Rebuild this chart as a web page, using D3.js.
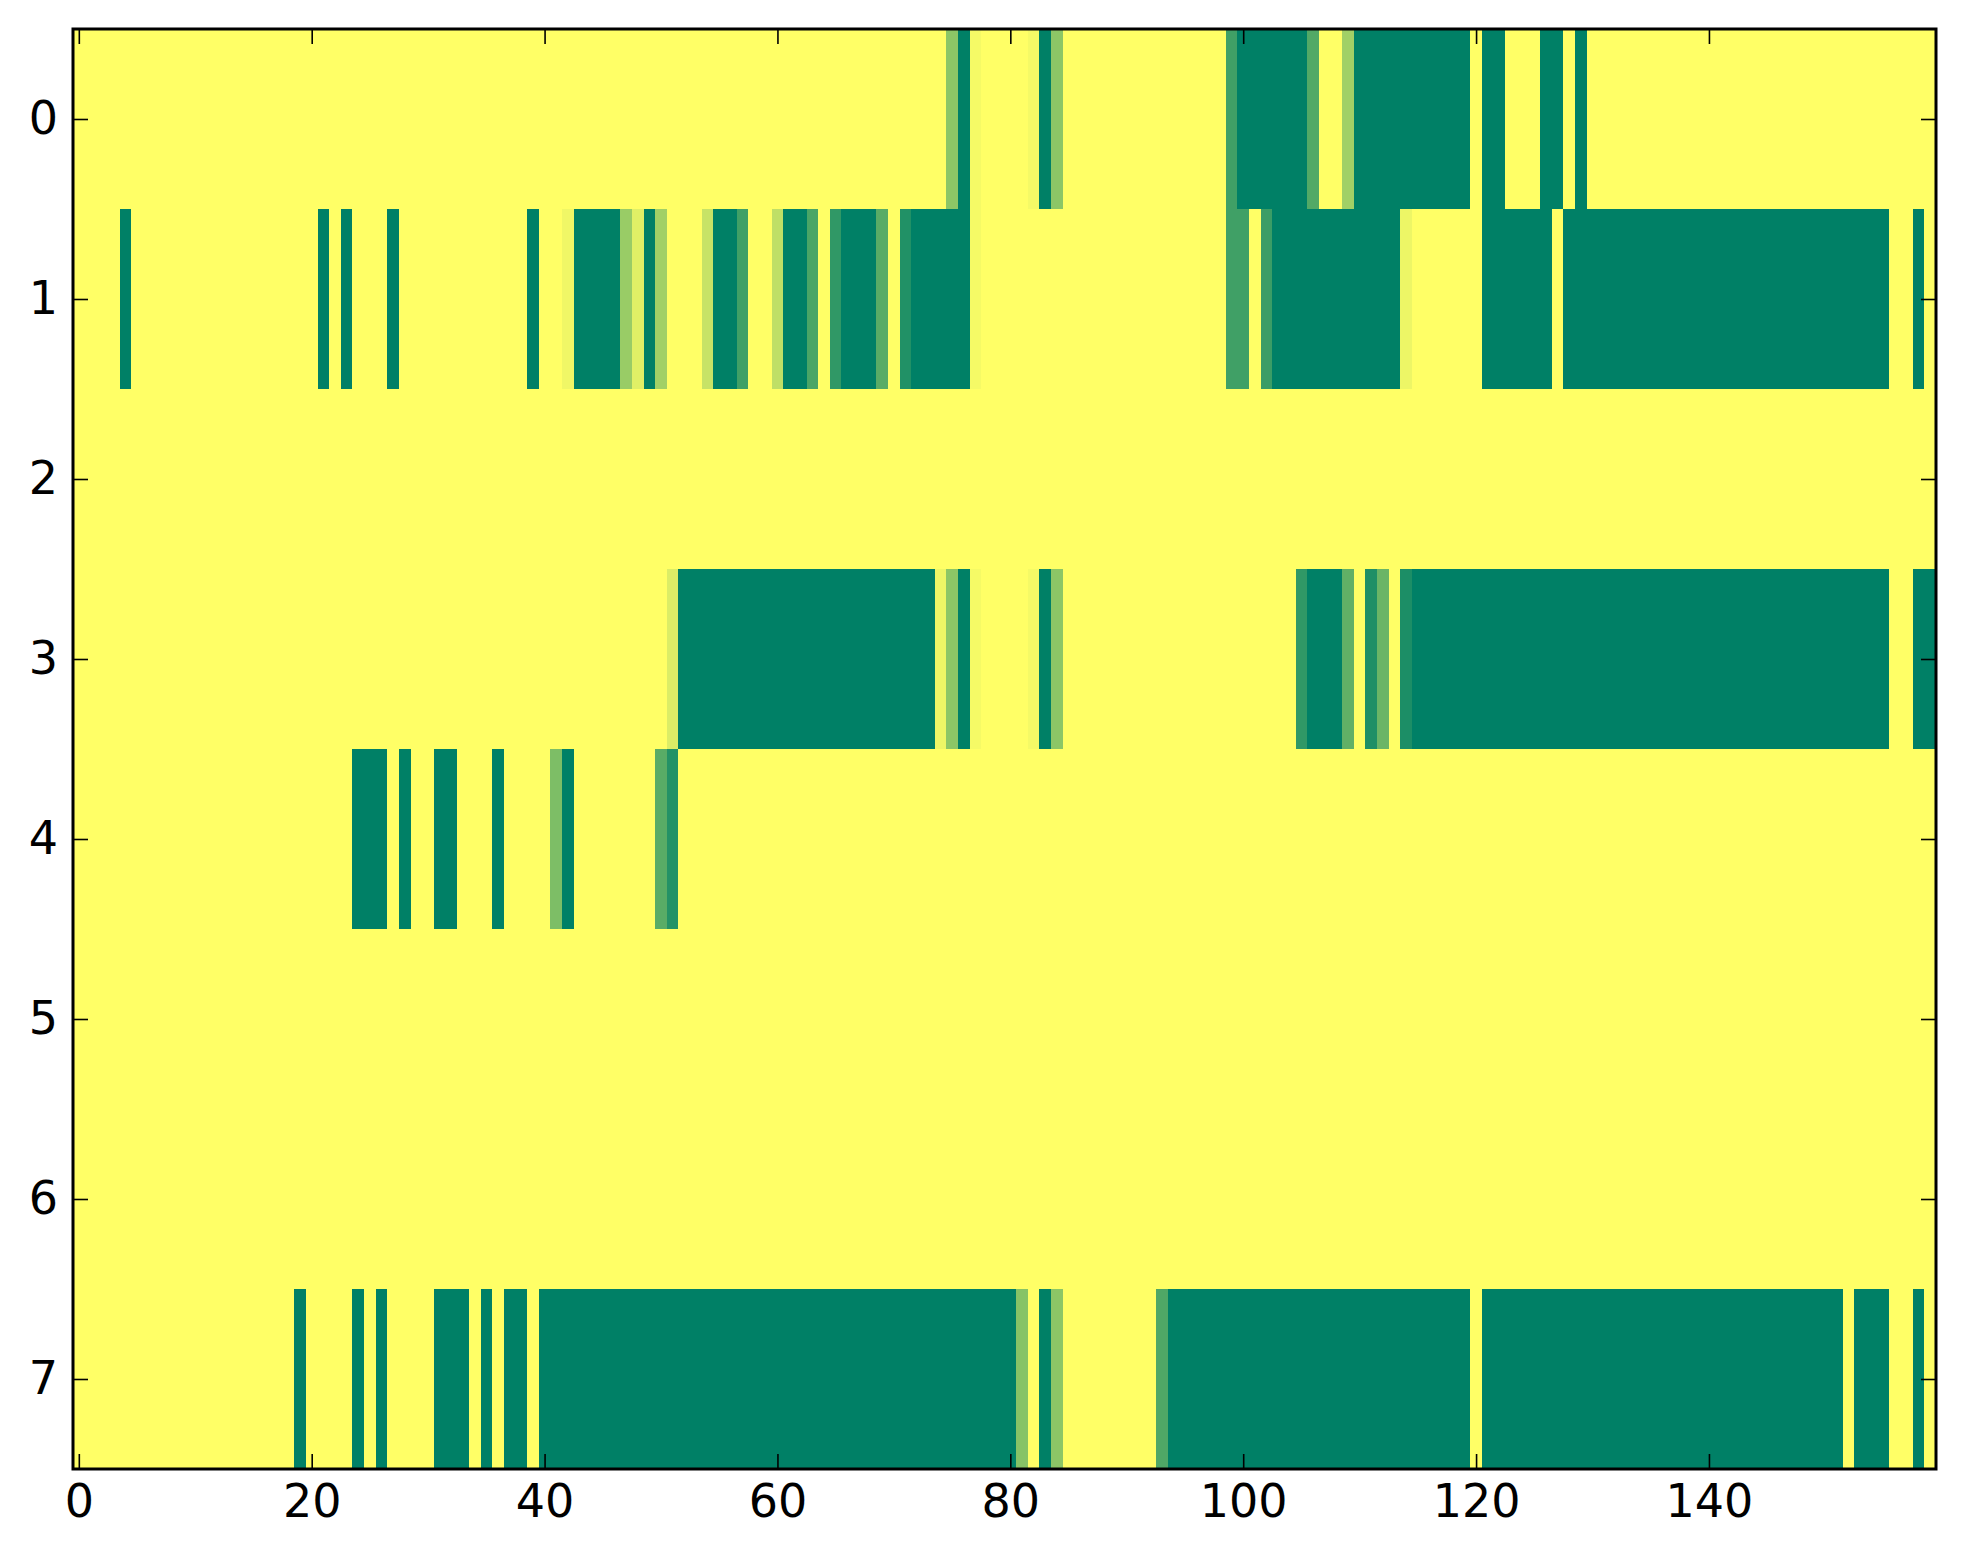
<!DOCTYPE html>
<html>
<head>
<meta charset="utf-8">
<script src="https://cdn.jsdelivr.net/npm/d3@7"></script>
<style>
  body { margin: 0; background: #fff; }
  svg { display: block; }
  .tick text { font-family: "DejaVu Sans", sans-serif; }
</style>
</head>
<body>
<div id="chart"></div>
<script>
// each row is a list of runs: [first column, last column, value]
const row0 = [[0,74,1],[75,75,0.55],[76,76,0],[77,77,0.96],[78,81,1],[82,82,0.96],[83,83,0],[84,84,0.55],
  [85,98,1],[99,99,0.25],[100,105,0],[106,106,0.32],[107,108,1],[109,109,0.63],[110,119,0],[120,120,1],
  [121,122,0],[123,125,1],[126,127,0],[128,128,1],[129,129,0],[130,159,1]];
const row1 = [[0,3,1],[4,4,0],[5,20,1],[21,21,0],[22,22,1],[23,23,0],[24,26,1],[27,27,0],[28,38,1],[39,39,0],
  [40,41,1],[42,42,0.94],[43,46,0],[47,47,0.6],[48,48,0.88],[49,49,0],[50,50,0.63],[51,53,1],[54,54,0.78],
  [55,56,0],[57,57,0.25],[58,59,1],[60,60,0.75],[61,62,0],[63,63,0.29],[64,64,1],[65,65,0.19],[66,68,0],
  [69,69,0.35],[70,70,1],[71,71,0.13],[72,76,0],[77,77,0.96],[78,98,1],[99,100,0.25],[101,101,1],
  [102,102,0.23],[103,113,0],[114,114,0.93],[115,120,1],[121,126,0],[127,127,1],[128,155,0],[156,157,1],
  [158,158,0],[159,159,1]];
const row2 = [[0,159,1]];
const row3 = [[0,50,1],[51,51,0.86],[52,73,0],[74,74,0.93],[75,75,0.55],[76,76,0],[77,77,0.96],[78,81,1],
  [82,82,0.96],[83,83,0],[84,84,0.55],[85,104,1],[105,105,0.19],[106,108,0],[109,109,0.38],[110,110,1],
  [111,111,0.12],[112,112,0.42],[113,113,1],[114,114,0.11],[115,155,0],[156,157,1],[158,159,0]];
const row4 = [[0,23,1],[24,26,0],[27,27,1],[28,28,0],[29,30,1],[31,32,0],[33,35,1],[36,36,0],[37,40,1],
  [41,41,0.49],[42,42,0],[43,49,1],[50,50,0.35],[51,51,0.14],[52,159,1]];
const row5 = [[0,159,1]];
const row6 = [[0,159,1]];
const row7 = [[0,18,1],[19,19,0],[20,23,1],[24,24,0],[25,25,1],[26,26,0],[27,30,1],[31,33,0],[34,34,1],
  [35,35,0],[36,36,1],[37,38,0],[39,39,1],[40,80,0],[81,81,0.53],[82,82,1],[83,83,0],[84,84,0.55],
  [85,92,1],[93,93,0.31],[94,119,0],[120,120,1],[121,151,0],[152,152,1],[153,155,0],[156,157,1],
  [158,158,0],[159,159,1]];
const rows = [row0, row1, row2, row3, row4, row5, row6, row7];
const nCols = 160;
const xTicks = [0, 20, 40, 60, 80, 100, 120, 140];
const yTicks = [0, 1, 2, 3, 4, 5, 6, 7];

const width = 1963;
const height = 1564;
const margin = { top: 29, right: 27, bottom: 95, left: 73 };
const fontSize = 46;

const svg = d3.select("#chart")
  .append("svg")
  .attr("width", width)
  .attr("height", height);

const xScale = d3.scaleLinear()
  .domain([-0.5, nCols - 0.5])
  .range([margin.left, width - margin.right]);
const yScale = d3.scaleLinear()
  .domain([-0.5, rows.length - 0.5])
  .range([margin.top, height - margin.bottom]);

// matplotlib "summer" colormap: green -> yellow
const color = d3.scaleLinear()
  .domain([0, 1])
  .range(["#008066", "#ffff66"]);

const cells = [];
rows.forEach((runs, r) => {
  runs.forEach(([a, b, v]) => {
    for (let c = a; c <= b; c++) cells.push({ row: r, col: c, value: v });
  });
});

svg.append("g")
  .selectAll("rect")
  .data(cells)
  .enter()
  .append("rect")
  .attr("x", d => xScale(d.col - 0.5))
  .attr("y", d => yScale(d.row - 0.5))
  .attr("width", d => xScale(d.col + 0.5) - xScale(d.col - 0.5))
  .attr("height", d => yScale(d.row + 0.5) - yScale(d.row - 0.5))
  .attr("fill", d => color(d.value))
  .attr("shape-rendering", "crispEdges");

const tickLen = 15;
const pad = 15;

function styleAxis(g) {
  g.select(".domain").remove();
  g.selectAll(".tick line").attr("stroke", "#000").attr("stroke-width", 1.6);
  g.selectAll(".tick text").style("font-size", fontSize + "px").attr("fill", "#000");
}

svg.append("g")
  .attr("transform", `translate(0,${height - margin.bottom})`)
  .call(d3.axisBottom(xScale).tickValues(xTicks).tickSizeInner(-tickLen).tickSizeOuter(0).tickPadding(pad))
  .call(styleAxis);
svg.append("g")
  .attr("transform", `translate(0,${margin.top})`)
  .call(d3.axisTop(xScale).tickValues(xTicks).tickSizeInner(-tickLen).tickSizeOuter(0).tickFormat(""))
  .call(styleAxis);
svg.append("g")
  .attr("transform", `translate(${margin.left},0)`)
  .call(d3.axisLeft(yScale).tickValues(yTicks).tickSizeInner(-tickLen).tickSizeOuter(0).tickPadding(pad))
  .call(styleAxis);
svg.append("g")
  .attr("transform", `translate(${width - margin.right},0)`)
  .call(d3.axisRight(yScale).tickValues(yTicks).tickSizeInner(-tickLen).tickSizeOuter(0).tickFormat(""))
  .call(styleAxis);

// frame
svg.append("rect")
  .attr("x", margin.left)
  .attr("y", margin.top)
  .attr("width", width - margin.left - margin.right)
  .attr("height", height - margin.top - margin.bottom)
  .attr("fill", "none")
  .attr("stroke", "#000")
  .attr("stroke-width", 3);
</script>
</body>
</html>
